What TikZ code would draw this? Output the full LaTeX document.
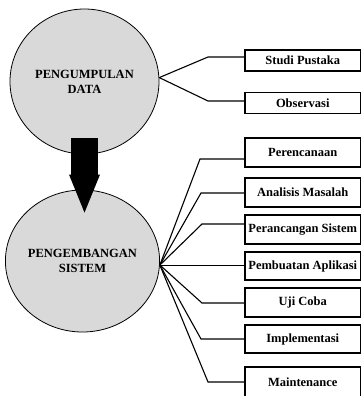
\documentclass[tikz,border=0pt]{standalone}
\usepackage{fontspec}
\setmainfont{Liberation Serif}
\usepackage{xcolor}
\usepackage{tikz}
\usetikzlibrary{shapes.geometric, arrows.meta, positioning}

\begin{document}
\begin{tikzpicture}[
    x=1bp, y=-1bp,
    circ/.style={ellipse, draw, line width=0.8bp, fill=black!15, align=center, inner sep=0pt,
        font={\fontsize{12.5bp}{15bp}\selectfont\bfseries}},
    box/.style={rectangle, draw, line width=1.1bp, minimum width=115.5bp, inner sep=0pt,
        font={\fontsize{12.5bp}{15bp}\selectfont\bfseries}},
    link/.style={line width=1.1bp},
    bigarrow/.style={line width=26bp, -{Triangle[width=31bp, length=38bp, line width=0pt]}}
]
\useasboundingbox (0,0) rectangle (362,396);

% Nodes
\node[circ, minimum width=149bp, minimum height=145bp] (kumpul) at (84.5,81.5) {PENGUMPULAN\\DATA};
\node[circ, minimum width=145bp, minimum height=142bp] (kembang) at (82.5,261) {PENGEMBANGAN\\SISTEM};

\node[box, minimum height=21bp] (studi) at (302.75,60.5) {Studi Pustaka};
\node[box, minimum height=21bp] (observasi) at (302.75,103) {Observasi};

\node[box, minimum height=29bp] (rencana) at (302.75,152.5) {Perencanaan};
\node[box, minimum height=29bp] (analisis) at (302.75,192.5) {Analisis Masalah};
\node[box, minimum height=29bp] (rancang) at (302.75,229.5) {Perancangan Sistem};
\node[box, minimum height=28bp] (aplikasi) at (302.75,266) {Pembuatan Aplikasi};
\node[box, minimum height=29bp] (ujicoba) at (302.75,302.5) {Uji Coba};
\node[box, minimum height=28bp] (implementasi) at (302.75,339) {Implementasi};
\node[box, minimum height=30bp] (maintenance) at (302.75,382) {Maintenance};

% Arrows
\draw[bigarrow] ([yshift=16bp]kumpul.south) -- ([yshift=-23bp]kumpul.south |- kembang.north);

\draw[link] (kumpul.3) -- (208,57) -- (studi.west |- 208,57);
\draw[link] (kumpul.3) -- (208,101) -- (observasi.west |- 208,101);

\draw[link] (kembang.-3) -- (200,159) -- (rencana.west |- 200,159);
\draw[link] (kembang.-3) -- (201,193) -- (analisis.west |- 201,193);
\draw[link] (kembang.-3) -- (202,224) -- (rancang.west |- 202,224);
\draw[link] (kembang.-3) -- (aplikasi.west |- kembang.-3);
\draw[link] (kembang.-3) -- (202,303) -- (ujicoba.west |- 202,303);
\draw[link] (kembang.-3) -- (201,339) -- (implementasi.west |- 201,339);
\draw[link] (kembang.-3) -- (208,382) -- (maintenance.west |- 208,382);

\end{tikzpicture}
\end{document}
